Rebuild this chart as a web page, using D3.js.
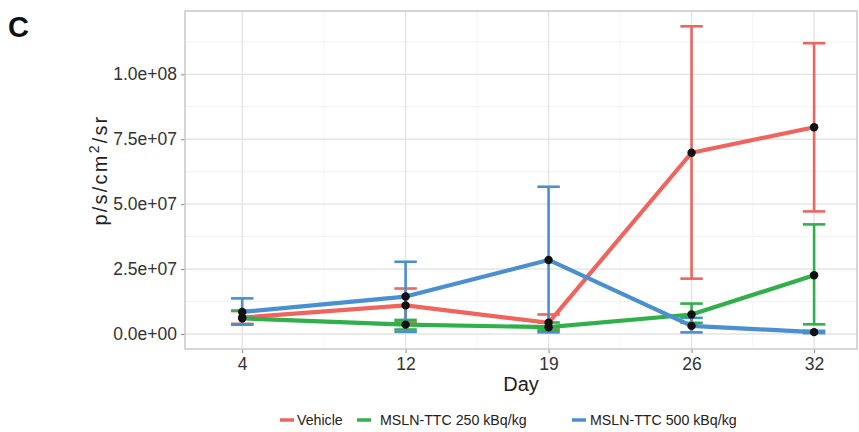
<!DOCTYPE html>
<html>
<head>
<meta charset="utf-8">
<script src="https://cdn.jsdelivr.net/npm/d3@7"></script>
<style>
  body { margin: 0; background: #fff; }
  text { font-family: "Liberation Sans", Arial, sans-serif; }
</style>
</head>
<body>
<svg id="chart" width="859" height="432"></svg>
<script>
const days = [4, 12, 19, 26, 32];
const seriesNames = ["Vehicle", "MSLN-TTC 250 kBq/kg", "MSLN-TTC 500 kBq/kg"];
const seriesColors = ["#F0645E", "#2FB04A", "#4A8FCF"];

// mean, lower, upper per day (p/s/cm2/sr)
const vehicleMean = [6.3e6, 11.0e6, 4.3e6, 69.8e6, 79.6e6];
const vehicleLow = [3.9e6, 4.5e6, 2.0e6, 21.3e6, 47.2e6];
const vehicleHigh = [8.8e6, 17.5e6, 7.5e6, 118.5e6, 112.0e6];

const mid250Mean = [6.0e6, 3.6e6, 2.6e6, 7.5e6, 22.6e6];
const mid250Low = [3.6e6, 1.7e6, 1.2e6, 4.3e6, 3.7e6];
const mid250High = [9.0e6, 5.4e6, 4.4e6, 11.7e6, 42.2e6];

const high500Mean = [8.5e6, 14.4e6, 28.5e6, 3.1e6, 0.7e6];
const high500Low = [3.6e6, 0.8e6, 0.6e6, 0.6e6, 0.3e6];
const high500High = [13.7e6, 27.8e6, 56.7e6, 6.2e6, 1.2e6];

const yTicks = [0, 2.5e7, 5e7, 7.5e7, 1e8];
const yTickLabels = ["0.0e+00", "2.5e+07", "5.0e+07", "7.5e+07", "1.0e+08"];

const series = [
  { name: seriesNames[0], color: seriesColors[0], mean: vehicleMean, low: vehicleLow, high: vehicleHigh },
  { name: seriesNames[1], color: seriesColors[1], mean: mid250Mean, low: mid250Low, high: mid250High },
  { name: seriesNames[2], color: seriesColors[2], mean: high500Mean, low: high500Low, high: high500High }
];

const svg = d3.select("#chart");
const panel = { left: 185, right: 857, top: 11, bottom: 349 };

const x = d3.scaleLinear().domain([1.2, 34.1]).range([panel.left, panel.right]);
const y = d3.scaleLinear().domain([-5.8e6, 124.4e6]).range([panel.bottom, panel.top]);

// grid
const g = svg.append("g");
const minorY = d3.range(1.25e7, 1.25e8, 2.5e7);
g.selectAll(".minory").data(minorY).join("line")
  .attr("x1", panel.left).attr("x2", panel.right)
  .attr("y1", d => y(d)).attr("y2", d => y(d))
  .attr("stroke", "#f2f2f2").attr("stroke-width", 1);
const minorX = d3.pairs(days).map(p => (p[0] + p[1]) / 2);
g.selectAll(".minorx").data(minorX).join("line")
  .attr("x1", d => x(d)).attr("x2", d => x(d))
  .attr("y1", panel.top).attr("y2", panel.bottom)
  .attr("stroke", "#f5f5f5").attr("stroke-width", 1);
g.selectAll(".majory").data(yTicks).join("line")
  .attr("x1", panel.left).attr("x2", panel.right)
  .attr("y1", d => y(d)).attr("y2", d => y(d))
  .attr("stroke", "#e4e4e4").attr("stroke-width", 1.4);
g.selectAll(".majorx").data(days).join("line")
  .attr("x1", d => x(d)).attr("x2", d => x(d))
  .attr("y1", panel.top).attr("y2", panel.bottom)
  .attr("stroke", "#e4e4e4").attr("stroke-width", 1.4);

// axes
const yAxis = d3.axisLeft(y).tickValues(yTicks).tickFormat((d, i) => yTickLabels[i]).tickSize(4).tickPadding(4);
const xAxis = d3.axisBottom(x).tickValues(days).tickSize(4).tickPadding(5);

svg.append("g").attr("transform", `translate(${panel.left},0)`).call(yAxis)
  .call(a => a.select(".domain").remove())
  .call(a => a.selectAll("line").attr("stroke", "#888"))
  .call(a => a.selectAll("text").attr("font-size", 17.5).attr("fill", "#333"));
svg.append("g").attr("transform", `translate(0,${panel.bottom})`).call(xAxis)
  .call(a => a.select(".domain").remove())
  .call(a => a.selectAll("line").attr("stroke", "#888"))
  .call(a => a.selectAll("text").attr("font-size", 17.5).attr("fill", "#333"));

// border
svg.append("rect")
  .attr("x", panel.left).attr("y", panel.top)
  .attr("width", panel.right - panel.left).attr("height", panel.bottom - panel.top)
  .attr("fill", "none").attr("stroke", "#c8c8c8").attr("stroke-width", 1.5);

// error bars
const capHalf = 0.55;
series.forEach(s => {
  const eg = svg.append("g").attr("stroke", s.color).attr("stroke-width", 2.6).attr("fill", "none");
  days.forEach((d, i) => {
    eg.append("line").attr("x1", x(d)).attr("x2", x(d)).attr("y1", y(s.low[i])).attr("y2", y(s.high[i]));
    eg.append("line").attr("x1", x(d - capHalf)).attr("x2", x(d + capHalf)).attr("y1", y(s.low[i])).attr("y2", y(s.low[i]));
    eg.append("line").attr("x1", x(d - capHalf)).attr("x2", x(d + capHalf)).attr("y1", y(s.high[i])).attr("y2", y(s.high[i]));
  });
});

// lines
const line = d3.line().x((d, i) => x(days[i])).y(d => y(d));
series.forEach(s => {
  svg.append("path").datum(s.mean)
    .attr("d", line)
    .attr("fill", "none").attr("stroke", s.color).attr("stroke-width", 4.2)
    .attr("stroke-linejoin", "round");
});

// points
series.forEach(s => {
  svg.append("g").selectAll("circle").data(s.mean).join("circle")
    .attr("cx", (d, i) => x(days[i])).attr("cy", d => y(d))
    .attr("r", 4.2).attr("fill", "#111");
});

// titles
svg.append("text").attr("x", 8).attr("y", 37).attr("font-size", 29).attr("font-weight", "bold").attr("fill", "#111").text("C");

svg.append("text").attr("x", (panel.left + panel.right) / 2).attr("y", 391)
  .attr("text-anchor", "middle").attr("font-size", 20).attr("fill", "#222").text("Day");

const yl = svg.append("text")
  .attr("transform", "translate(107,170) rotate(-90)")
  .attr("text-anchor", "middle").attr("font-size", 20).attr("letter-spacing", 2.2).attr("fill", "#222");
yl.append("tspan").text("p/s/cm");
yl.append("tspan").attr("dy", -8).attr("font-size", 14).text("2");
yl.append("tspan").attr("dy", 8).text("/sr");

// legend
const legendKeyX = [280, 357, 572];
const legendTextX = [297, 380, 590];
const lg = svg.append("g");
series.forEach((s, i) => {
  lg.append("line").attr("x1", legendKeyX[i]).attr("x2", legendKeyX[i] + 14)
    .attr("y1", 420).attr("y2", 420)
    .attr("stroke", s.color).attr("stroke-width", 3.5);
  lg.append("text").attr("x", legendTextX[i]).attr("y", 425)
    .attr("font-size", 14.2).attr("fill", "#222").text(s.name);
});
</script>
</body>
</html>
